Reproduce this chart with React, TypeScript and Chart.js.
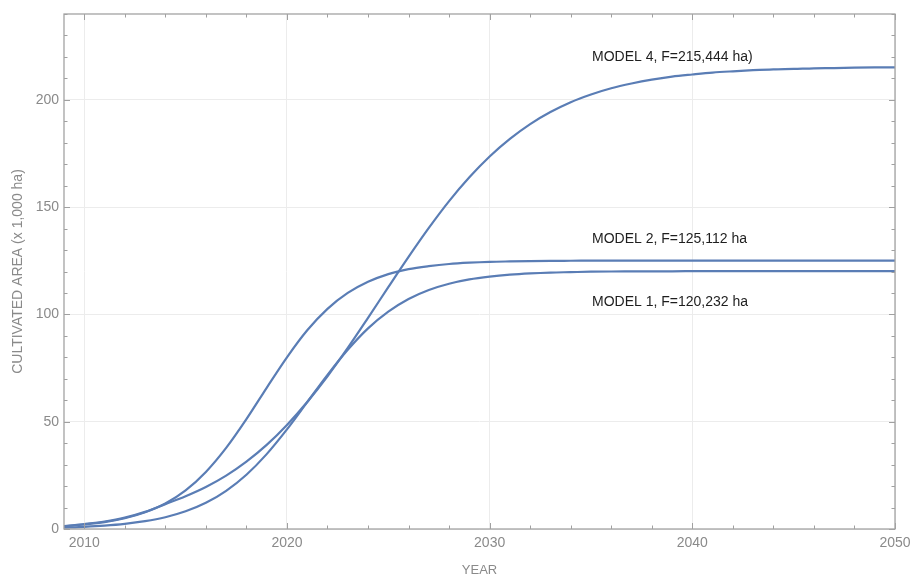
import { useEffect, useRef } from "react";
import { Chart, registerables } from "chart.js";

Chart.register(...registerables);

const years = [
  2009, 2010, 2011, 2012, 2013, 2014, 2015, 2016, 2017, 2018, 2019, 2020, 2021, 2022,
  2023, 2024, 2025, 2026, 2027, 2028, 2029, 2030, 2031, 2032, 2033, 2034, 2035, 2036,
  2037, 2038, 2039, 2040, 2041, 2042, 2043, 2044, 2045, 2046, 2047, 2048, 2049, 2050,
];

const model1 = [
  0.67, 1.03, 1.57, 2.39, 3.64, 5.5, 8.25, 12.2, 17.8, 25.3, 34.9, 46.4, 59.1, 71.8,
  83.5, 93.5, 101.3, 107.2, 111.4, 114.3, 116.3, 117.6, 118.5, 119.1, 119.5, 119.7, 119.9, 120.0,
  120.05, 120.1, 120.1, 120.15, 120.2, 120.2, 120.2, 120.2, 120.2, 120.2, 120.2, 120.2, 120.2, 120.2,
];

const model2 = [
  1.3, 2.1, 3.2, 5.0, 7.8, 11.9, 18.0, 26.6, 37.8, 51.2, 65.8, 80.0, 92.6, 102.6,
  110.0, 115.2, 118.8, 121.1, 122.5, 123.5, 124.1, 124.5, 124.7, 124.85, 124.95, 125.0, 125.05, 125.1,
  125.1, 125.1, 125.1, 125.1, 125.1, 125.1, 125.1, 125.1, 125.1, 125.1, 125.1, 125.1, 125.1, 125.1,
];

const model4 = [
  1.3, 2.3, 3.5, 5.3, 8.0, 11.6, 15.3, 19.6, 24.9, 31.4, 39.2, 48.5, 59.2, 71.2,
  84.4, 98.4, 112.7, 126.8, 140.3, 152.8, 163.9, 173.6, 181.8, 188.7, 194.3, 198.9, 202.5, 205.4,
  207.6, 209.4, 210.8, 211.8, 212.7, 213.3, 213.8, 214.2, 214.4, 214.7, 214.8, 215.0, 215.1, 215.1,
];

const xTickValues = [2010, 2020, 2030, 2040, 2050];
const yTickValues = [0, 50, 100, 150, 200];

const annotationTexts = ["MODEL 4, F=215,444 ha)", "MODEL 2, F=125,112 ha", "MODEL 1, F=120,232 ha"];
const annotationX = [2035.05, 2035.05, 2035.05];
const annotationY = [220, 134.9, 105.5];

const X_MIN = 2009;
const X_MAX = 2050;
const Y_MIN = 0;
const Y_MAX = 240;

const FONT = '"Liberation Sans", Arial, Helvetica, sans-serif';
const LINE_COLOR = "#5a7db5";

const framePlugin = {
  id: "mmaFrame",
  afterDraw(chart: any) {
    const { ctx, chartArea, scales } = chart;
    const { left, right, top, bottom } = chartArea;
    const xs = scales.x;
    const ys = scales.y;
    ctx.save();

    // ticks (inward, all four sides)
    ctx.strokeStyle = "#a0a0a0";
    ctx.lineWidth = 1;
    const majorLen = 6;
    const minorLen = 3.5;
    ctx.beginPath();
    for (let v = 2010; v <= X_MAX; v += 2) {
      const px = Math.round(xs.getPixelForValue(v)) + 0.5;
      const len = v % 10 === 0 ? majorLen : minorLen;
      ctx.moveTo(px, bottom);
      ctx.lineTo(px, bottom - len);
      ctx.moveTo(px, top);
      ctx.lineTo(px, top + len);
    }
    for (let v = Y_MIN; v <= Y_MAX; v += 10) {
      const py = Math.round(ys.getPixelForValue(v)) + 0.5;
      const len = v % 50 === 0 ? majorLen : minorLen;
      ctx.moveTo(left, py);
      ctx.lineTo(left + len, py);
      ctx.moveTo(right, py);
      ctx.lineTo(right - len, py);
    }
    ctx.stroke();

    // frame
    ctx.strokeStyle = "#a3a3a3";
    ctx.lineWidth = 1.3;
    ctx.strokeRect(left, top, right - left, bottom - top);

    // annotations
    ctx.fillStyle = "#1e1e1e";
    ctx.font = `14px ${FONT}`;
    ctx.textAlign = "left";
    ctx.textBaseline = "middle";
    annotationTexts.forEach((t, i) => {
      ctx.fillText(t, xs.getPixelForValue(annotationX[i]), ys.getPixelForValue(annotationY[i]));
    });

    // axis titles
    ctx.fillStyle = "#8a8a8a";
    ctx.textAlign = "center";
    ctx.textBaseline = "middle";
    ctx.font = `13px ${FONT}`;
    ctx.fillText("YEAR", (left + right) / 2, 570);
    ctx.font = `14px ${FONT}`;
    ctx.translate(18, (top + bottom) / 2);
    ctx.rotate(-Math.PI / 2);
    ctx.fillText("CULTIVATED AREA (x 1,000 ha)", 0, 0);
    ctx.restore();
  },
};

function makeSeries(vals: number[]) {
  return years.map((yr, i) => ({ x: yr, y: vals[i] }));
}

export default function App() {
  const canvasRef = useRef<HTMLCanvasElement | null>(null);

  useEffect(() => {
    document.body.style.margin = "0";
    const canvas = canvasRef.current;
    if (!canvas) return;
    const ds = (label: string, vals: number[]) => ({
      label,
      data: makeSeries(vals),
      borderColor: LINE_COLOR,
      backgroundColor: LINE_COLOR,
      borderWidth: 2.2,
      pointRadius: 0,
      fill: false,
      cubicInterpolationMode: "monotone" as const,
    });
    const chart = new Chart(canvas, {
      type: "line",
      data: {
        datasets: [ds("Model 1", model1), ds("Model 2", model2), ds("Model 4", model4)],
      },
      options: {
        animation: false,
        responsive: false,
        maintainAspectRatio: false,
        layout: { padding: { top: 14, right: 15, left: 0, bottom: 0 } },
        plugins: { legend: { display: false }, tooltip: { enabled: false } },
        scales: {
          x: {
            type: "linear",
            min: X_MIN,
            max: X_MAX,
            afterBuildTicks: (scale: any) => {
              scale.ticks = xTickValues.map((v) => ({ value: v }));
            },
            afterFit: (scale: any) => {
              scale.height = 47;
              scale.paddingLeft = 0;
              scale.paddingRight = 0;
            },
            ticks: {
              color: "#8a8a8a",
              font: { size: 14, family: FONT },
              padding: 6,
              maxRotation: 0,
              autoSkip: false,
              callback: (v: any) => String(v),
            },
            grid: { color: "#ececec", lineWidth: 1, drawTicks: false },
            border: { display: false },
          },
          y: {
            type: "linear",
            min: Y_MIN,
            max: Y_MAX,
            afterBuildTicks: (scale: any) => {
              scale.ticks = yTickValues.map((v) => ({ value: v }));
            },
            afterFit: (scale: any) => {
              scale.width = 64;
              scale.paddingTop = 0;
              scale.paddingBottom = 0;
            },
            ticks: {
              color: "#8a8a8a",
              font: { size: 14, family: FONT },
              padding: 5,
              autoSkip: false,
              callback: (v: any) => String(v),
            },
            grid: { color: "#ececec", lineWidth: 1, drawTicks: false },
            border: { display: false },
          },
        },
      },
      plugins: [framePlugin],
    });
    return () => chart.destroy();
  }, []);

  return (
    <div style={{ position: "relative", width: 910, height: 576 }}>
      <canvas ref={canvasRef} width={910} height={576} style={{ width: 910, height: 576, display: "block" }} />
    </div>
  );
}
